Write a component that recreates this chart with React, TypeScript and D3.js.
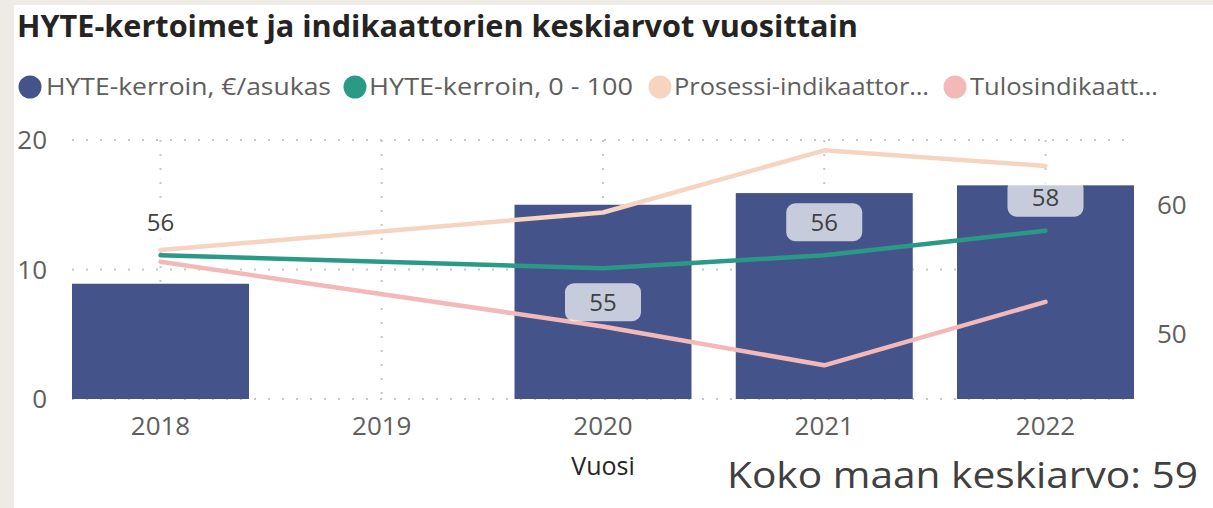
import React from 'react';
import * as d3 from 'd3';

// ---- data ----
const years = ['2018', '2019', '2020', '2021', '2022'];
const hyteEuro: (number | null)[] = [8.9, null, 15.0, 15.9, 16.5];
const hyte100: (number | null)[] = [56.1, null, 55.1, 56.1, 58.0];
const prosessi: (number | null)[] = [56.5, null, 59.4, 64.2, 63.0];
const tulos: (number | null)[] = [55.6, null, 50.6, 47.6, 52.5];
const leftTicks = [0, 10, 20];
const rightTicks = [50, 60];
const labelSide: (string | null)[] = ['above', null, 'below', 'above', 'above'];
const legendNames = [
  'HYTE-kerroin, €/asukas',
  'HYTE-kerroin, 0 - 100',
  'Prosessi-indikaattor…',
  'Tulosindikaatt…',
];
const titleText = 'HYTE-kertoimet ja indikaattorien keskiarvot vuosittain';
const xTitle = 'Vuosi';
const footnote = 'Koko maan keskiarvo: 59';

// ---- style / layout ----
const W = 1213;
const H = 508;
const C_BAR = '#44548B';
const C_GREEN = '#2A9A86';
const C_PEACH = '#F6D4BF';
const C_PINK = '#F3B9B8';
const legendColors = [C_BAR, C_GREEN, C_PEACH, C_PINK];
const legendCx = [30, 355, 660, 955];
const legendTextX = [46, 369, 674, 970];
const legendTextW = [285, 264, 255, 188];
const FONT = "'Open Sans', 'Noto Sans', sans-serif";

export default function App() {
  const x = d3.scaleBand<string>().domain(years).range([72, 1134]).paddingInner(0.2).paddingOuter(0);
  const bw = x.bandwidth();
  const cx = (y: string) => (x(y) as number) + bw / 2;
  const yL = d3.scaleLinear().domain([0, 20]).range([399, 140]);
  const yR = d3.scaleLinear().domain([45, 65]).range([399, 140]);

  type P = { year: string; v: number };
  const pts = (arr: (number | null)[]): P[] =>
    years.map((year, i) => ({ year, v: arr[i] as number })).filter((_, i) => arr[i] != null);
  const line = d3
    .line<P>()
    .x((d) => cx(d.year))
    .y((d) => yR(d.v));

  const plotTop = yL.range()[1];
  const plotBottom = yL.range()[0];
  const gridColor = '#C6C6C6';

  return (
    <svg
      width={W}
      height={H}
      style={{ position: 'absolute', left: 0, top: 0, display: 'block', background: '#fff' }}
    >
      <rect x={0} y={0} width={W} height={H} fill="#fff" />
      <rect x={0} y={0} width={14} height={H} fill="#EEEBE6" />
      <rect x={0} y={0} width={W} height={5} fill="#EEEBE6" />

      {/* title */}
      <text
        x={17}
        y={37}
        fontFamily={FONT}
        fontWeight={700}
        fontSize={31}
        fill="#252423"
        textLength={841}
        lengthAdjust="spacingAndGlyphs"
      >
        {titleText}
      </text>

      {/* legend */}
      {legendNames.map((n, i) => (
        <g key={n}>
          <circle cx={legendCx[i]} cy={87} r={11.5} fill={legendColors[i]} />
          <text
            x={legendTextX[i]}
            y={95}
            fontFamily={FONT}
            fontSize={24}
            fill="#605E5C"
            textLength={legendTextW[i]}
            lengthAdjust="spacingAndGlyphs"
          >
            {n}
          </text>
        </g>
      ))}

      {/* gridlines */}
      {leftTicks.map((t) => (
        <line
          key={'h' + t}
          x1={72}
          x2={1135}
          y1={yL(t)}
          y2={yL(t)}
          stroke={gridColor}
          strokeWidth={2}
          strokeDasharray="2 12"
        />
      ))}
      {years.map((y) => (
        <line
          key={'v' + y}
          x1={cx(y)}
          x2={cx(y)}
          y1={plotTop}
          y2={plotBottom}
          stroke={gridColor}
          strokeWidth={2}
          strokeDasharray="2 12"
        />
      ))}

      {/* axes labels */}
      {leftTicks.map((t) => (
        <text
          key={'lt' + t}
          x={47}
          y={yL(t)}
          dy="0.35em"
          textAnchor="end"
          fontFamily={FONT}
          fontSize={26}
          fill="#605E5C"
        >
          {t}
        </text>
      ))}
      {rightTicks.map((t) => (
        <text
          key={'rt' + t}
          x={1157}
          y={yR(t)}
          dy="0.35em"
          textAnchor="start"
          fontFamily={FONT}
          fontSize={26}
          fill="#605E5C"
        >
          {t}
        </text>
      ))}
      {years.map((y) => (
        <text
          key={'xt' + y}
          x={cx(y)}
          y={435}
          textAnchor="middle"
          fontFamily={FONT}
          fontSize={26}
          fill="#605E5C"
        >
          {y}
        </text>
      ))}
      <text x={603} y={475} textAnchor="middle" fontFamily={FONT} fontSize={25} fill="#252423">
        {xTitle}
      </text>

      {/* bars */}
      {years.map((y, i) =>
        hyteEuro[i] == null ? null : (
          <rect
            key={'b' + y}
            x={x(y)}
            y={yL(hyteEuro[i] as number)}
            width={bw}
            height={yL(0) - yL(hyteEuro[i] as number)}
            fill={C_BAR}
          />
        )
      )}

      {/* lines */}
      <path d={line(pts(prosessi)) || ''} fill="none" stroke={C_PEACH} strokeWidth={4.5} strokeLinejoin="round" strokeLinecap="round" />
      <path d={line(pts(tulos)) || ''} fill="none" stroke={C_PINK} strokeWidth={4.5} strokeLinejoin="round" strokeLinecap="round" />
      <path d={line(pts(hyte100)) || ''} fill="none" stroke={C_GREEN} strokeWidth={4.5} strokeLinejoin="round" strokeLinecap="round" />

      {/* data labels for HYTE 0-100 */}
      {years.map((y, i) => {
        if (hyte100[i] == null) return null;
        const py = yR(hyte100[i] as number);
        const ly = labelSide[i] === 'below' ? py + 34 : py - 33;
        return (
          <g key={'lab' + y}>
            <rect x={cx(y) - 38} y={ly - 19} width={76} height={38} rx={9} fill="#fff" fillOpacity={0.7} />
            <text
              x={cx(y)}
              y={ly}
              dy="0.35em"
              textAnchor="middle"
              fontFamily={FONT}
              fontSize={24}
              fill="#404040"
            >
              {Math.round(hyte100[i] as number)}
            </text>
          </g>
        );
      })}

      {/* footnote */}
      <text
        x={727}
        y={488}
        fontFamily={FONT}
        fontSize={36}
        fill="#404040"
        textLength={471}
        lengthAdjust="spacingAndGlyphs"
      >
        {footnote}
      </text>
    </svg>
  );
}
